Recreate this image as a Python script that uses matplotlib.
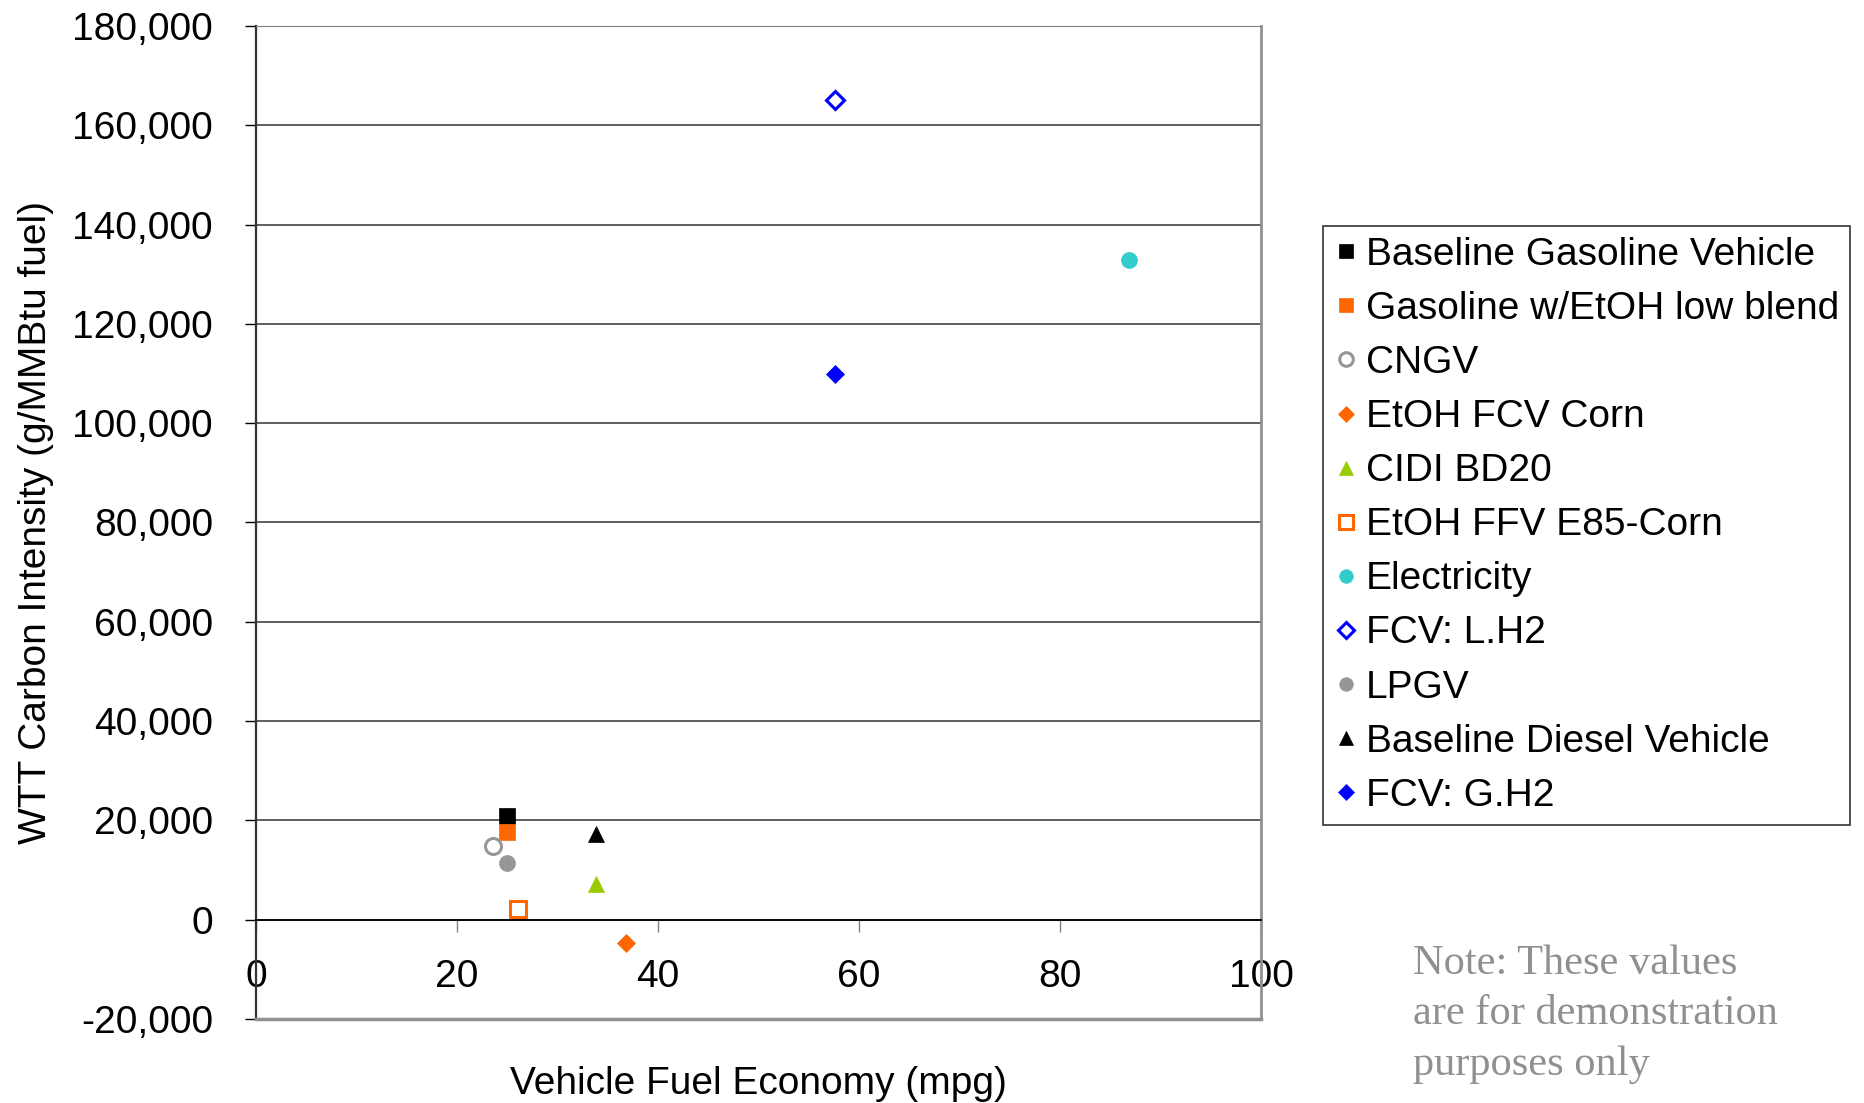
import matplotlib.pyplot as plt
from matplotlib.ticker import StrMethodFormatter

plt.rcParams['font.family'] = ['Liberation Sans', 'DejaVu Sans']
plt.rcParams['axes.unicode_minus'] = False

labels = ['Baseline Gasoline Vehicle', 'Gasoline w/EtOH low blend', 'CNGV',
          'EtOH FCV Corn', 'CIDI BD20', 'EtOH FFV E85-Corn', 'Electricity',
          'FCV: L.H2', 'LPGV', 'Baseline Diesel Vehicle', 'FCV: G.H2']
mpg = [25, 25, 23.6, 36.8, 33.8, 26.1, 86.9, 57.6, 25, 33.8, 57.6]
wtt = [20800, 17700, 14800, -4600, 7100, 2200, 132800, 165000, 11400, 17300, 110000]

markers = ['s', 's', 'o', 'D', '^', 's', 'o', 'D', 'o', '^', 'D']
colors = ['#000000', '#FF6600', '#969696', '#FF6600', '#99CC00', '#FF6600',
          '#33CCCC', '#0000FF', '#969696', '#000000', '#0000FF']
hollow = [False, False, True, False, False, True, False, True, False, False, False]
sizes = [11.5, 11.5, 11.5, 9.5, 12, 11.5, 11.5, 9.5, 11.5, 12, 9.5]

fig = plt.figure(figsize=(18.65, 11.03), dpi=100)
ax = fig.add_axes([256/1865, 1-1019/1103, (1261-256)/1865, (1019-26)/1103])

for lab, x, y, m, c, h, s in zip(labels, mpg, wtt, markers, colors, hollow, sizes):
    ax.plot([x], [y], linestyle='none', marker=m, markersize=s,
            markerfacecolor='white' if h else c, markeredgecolor=c,
            markeredgewidth=2.2 if h else 0.5, label=lab, zorder=5, clip_on=False)

ax.set_xlim(0, 100)
ax.set_ylim(-20000, 180000)
ax.set_xticks(range(0, 101, 20))
ax.set_yticks(range(-20000, 180001, 20000))
ax.yaxis.set_major_formatter(StrMethodFormatter('{x:,.0f}'))

ax.grid(axis='y', color='#333333', linewidth=1.1, zorder=1)
ax.spines['bottom'].set_position(('data', 0))
ax.spines['bottom'].set_color('black')
ax.spines['bottom'].set_linewidth(1.3)
ax.spines['left'].set_color('#333333')
ax.spines['left'].set_linewidth(1.6)
ax.spines['top'].set_color('#808080')
ax.spines['right'].set_color('#909090')
ax.spines['right'].set_linewidth(2)
ax.axhline(-20000, color='#909090', linewidth=2.5, clip_on=False, zorder=3)

ax.tick_params(axis='y', direction='out', length=8, width=1, color='black',
               labelsize=28, pad=23)
ax.tick_params(axis='x', direction='out', length=8.6, width=1, color='#808080',
               labelsize=28, pad=19.5)

fig.text(758.5/1865, 1-1084/1103, 'Vehicle Fuel Economy (mpg)', fontsize=28,
         ha='center', va='center')
fig.text(36/1865, 1-522.5/1103, 'WTT Carbon Intensity (g/MMBtu fuel)', fontsize=28,
         ha='center', va='center', rotation=90)

leg = ax.legend(loc='upper left', bbox_to_anchor=(1323/1865, 1-226/1103),
                bbox_transform=fig.transFigure, fontsize=28, frameon=True,
                fancybox=False, edgecolor='black', markerscale=0.85,
                borderaxespad=0, borderpad=0.28, labelspacing=0.465,
                handlelength=0.6, handletextpad=0.22)
leg.get_frame().set_linewidth(1.2)

fig.text(1413/1865, 1-1075/1103,
         'Note: These values\nare for demonstration\npurposes only',
         fontsize=30.5, family='Liberation Serif', color='#909090',
         ha='left', va='baseline', linespacing=1.41)

fig.savefig('out.png', dpi=100)
